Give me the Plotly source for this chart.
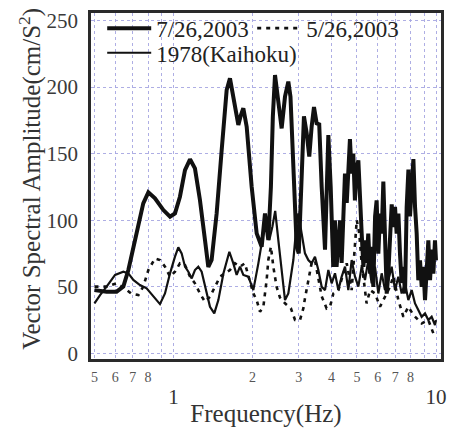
import plotly.graph_objects as go

# ---- data ----
f_jul = [0.50, 0.556, 0.607, 0.644, 0.673, 0.703, 0.735, 0.767, 0.802, 0.850, 0.915, 0.970, 1.013,
         1.058, 1.106, 1.156, 1.207, 1.261, 1.318, 1.357, 1.397, 1.460, 1.526, 1.594, 1.641, 1.690,
         1.740, 1.766, 1.800, 1.845, 1.900, 1.985, 2.074, 2.167, 2.231, 2.297, 2.35, 2.39, 2.436,
         2.508, 2.582, 2.659, 2.738, 2.79, 2.861, 2.946, 3.0, 3.077, 3.14, 3.216, 3.29, 3.359, 3.429,
         3.51, 3.59, 3.668, 3.777, 3.889, 3.97,
         4.06, 4.12, 4.18, 4.25, 4.31, 4.37, 4.44, 4.50, 4.57, 4.63, 4.70, 4.77, 4.84, 4.91, 4.99,
         5.06, 5.13, 5.21, 5.29, 5.36, 5.44, 5.52, 5.61, 5.69, 5.77, 5.86, 5.94, 6.03, 6.12, 6.21,
         6.30, 6.39, 6.49, 6.58, 6.68, 6.78, 6.88, 6.98, 7.08, 7.19, 7.29, 7.40, 7.51, 7.62, 7.73,
         7.85, 7.96, 8.08, 8.20, 8.32, 8.44, 8.56, 8.69, 8.82, 8.95, 9.08, 9.21, 9.35, 9.49, 9.63,
         9.77, 9.91, 10.0]
v_jul = [47.6, 46.4, 46.4, 50.2, 62.7, 79, 99, 112.7, 121, 116.5, 107.7, 102.7, 105.2,
         117.7, 137.7, 145.8, 139, 115.2, 85.2, 65, 70.2, 105.2, 152.8, 197.8, 206.6, 192.8,
         178, 171.6, 178, 184.1, 170.3, 125.2, 90.2, 80.2, 105.2, 85.2, 125.2, 177.8, 209,
         187.8, 169, 192.8, 204.1, 192.8, 140.3, 80.2, 75.2, 125.2, 178, 165.3, 147.8, 170.3, 185,
         172.8, 172, 125.2, 78, 164, 125.2,
         65, 100, 65, 90, 100, 68, 110, 135, 113, 145, 161, 135, 150, 115, 140,
         145, 110, 90, 65, 85, 68, 90, 60, 80, 50, 103, 115, 75, 105, 90,
         129, 85, 45, 60, 85, 112, 95, 110, 90, 105, 75, 53, 65, 45, 110,
         138, 103, 125, 146, 110, 90, 55, 70, 50, 65, 40, 70, 85, 55, 78,
         60, 85, 70]

f_may = [0.50, 0.556, 0.607, 0.652, 0.69, 0.735, 0.767, 0.802, 0.850, 0.888, 0.928, 0.970, 1.013,
         1.058, 1.106, 1.156, 1.207, 1.261, 1.318, 1.377, 1.439, 1.504, 1.571, 1.641, 1.715, 1.792,
         1.87, 1.928, 2.014, 2.074, 2.135, 2.199, 2.264, 2.297, 2.35, 2.401, 2.47, 2.545, 2.659,
         2.80, 2.903, 3.033, 3.123, 3.168, 3.262, 3.359, 3.459, 3.562, 3.668, 3.83, 3.946, 4.064,
         4.246, 4.44, 4.57, 4.772, 4.914, 4.99, 5.10, 5.21, 5.44, 5.61, 5.855, 6.12, 6.393, 6.68,
         6.88, 7.186, 7.51, 7.845, 8.20, 8.818, 9.35, 9.77, 10.0]
v_may = [50.2, 50.2, 52.7, 48.9, 45.1, 43.9, 50.2, 62.7, 71.4, 70.2, 65.2, 57.7, 61.4,
         67.7, 66.4, 57.7, 52.7, 45.1, 38.9, 42.6, 50.2, 57.7, 60.2, 62.7, 67.7, 65.2,
         67.7, 57.7, 45.1, 40.1, 31.4, 35.1, 55.2, 70.2, 80.2, 65, 50.2, 42, 37.7,
         33.9, 25.2, 25.2, 33.9, 41.4, 55, 68, 70, 55, 43, 33.9, 35.1, 45.1,
         47.6, 60.2, 67.7, 47.6, 85.2, 100.2, 90.2, 67.7, 37.6, 47.6, 45.1, 35.1, 42.6, 50.2,
         58, 40.1, 27.6, 35.1, 28.9, 22.6, 25.1, 15.1, 17.6]

f_1978 = [0.50, 0.525, 0.556, 0.599, 0.644, 0.673, 0.703, 0.745, 0.790, 0.838, 0.888, 0.928, 0.970,
          1.013, 1.043, 1.074, 1.106, 1.139, 1.173, 1.207, 1.243, 1.280, 1.318, 1.377, 1.43, 1.482,
          1.55, 1.632, 1.690, 1.740, 1.792, 1.845, 1.928, 2.014, 2.105, 2.199, 2.24, 2.317, 2.38,
          2.44, 2.508, 2.582, 2.659, 2.738, 2.861, 2.946, 2.989, 3.077, 3.168, 3.262, 3.359, 3.459,
          3.562, 3.668, 3.777, 3.889, 4.004, 4.123, 4.246, 4.372, 4.502, 4.634, 4.772, 4.914, 5.06,
          5.21, 5.364, 5.523, 5.687, 5.855, 6.029, 6.209, 6.393, 6.582, 6.778, 6.979, 7.186, 7.399,
          7.619, 7.845, 8.078, 8.318, 8.564, 8.818, 9.08, 9.35, 9.625, 9.911, 10.0]
v_1978 = [37.6, 43.9, 50.2, 59, 61.4, 60.2, 55.2, 51.4, 48.9, 42.6, 37.1, 45.1, 60.2,
          72.7, 79.7, 75.2, 65.2, 61.4, 56.4, 62.7, 65.2, 61.4, 50.2, 35.1, 30.1, 40.1,
          60.2, 76.4, 67.7, 59, 65.2, 59, 57.7, 47.6, 67.7, 90.2, 104, 85.2, 95.2,
          107, 85.2, 60.2, 40.1, 45.1, 70.2, 97.7, 105.2, 90.2, 75.2, 70.2, 67.7, 72.7,
          62.7, 50.2, 47.6, 62.7, 52.7, 60.2, 47.6, 57.7, 65.2, 47.6, 70.2, 57.7, 50.2,
          65.2, 55.2, 70.2, 52.7, 65.2, 45.1, 60.2, 47.6, 55.2, 65.2, 47.6, 57.7, 45.1,
          52.7, 40.1, 47.6, 37.6, 32.6, 27.6, 30.1, 25.1, 27.6, 21.4, 25.1]

names = ["7/26,2003", "5/26,2003", "1978(Kaihoku)"]

x_tickvals = [0.5, 0.6, 0.7, 0.8, 0.9, 1, 2, 3, 4, 5, 6, 7, 8, 9, 10]
x_minor_labels = ["5", "6", "7", "8", "", None, "2", "3", "4", "5", "6", "7", "8", "", None]
x_major_labels = {1: "1", 10: "10"}
y_tickvals = [0, 50, 100, 150, 200, 250]
x_title = "Frequency(Hz)"
y_title = "Vector Spectral Amplitude(cm/S<sup>2</sup>)"

SERIF = "Liberation Serif"
INK = "#111111"

ticktext = []
for v, m in zip(x_tickvals, x_minor_labels):
    if m is None:
        ticktext.append('<br><span style="font-size:21px;fill:#333">%s</span>' % x_major_labels[v])
    else:
        ticktext.append('<span style="font-size:14px">%s</span>' % m)

fig = go.Figure()
fig.add_trace(go.Scatter(x=f_jul, y=v_jul, mode="lines", name=names[0],
                         line=dict(color=INK, width=4), legend="legend"))
fig.add_trace(go.Scatter(x=f_may, y=v_may, mode="lines", name=names[1],
                         line=dict(color=INK, width=2.6, dash="4px,5px"), legend="legend"))
fig.add_trace(go.Scatter(x=f_1978, y=v_1978, mode="lines", name=names[2],
                         line=dict(color=INK, width=2.2), legend="legend2"))

legend_common = dict(orientation="h", xanchor="left", yanchor="middle", itemwidth=44,
                     font=dict(family=SERIF, size=23, color="#222"),
                     bgcolor="rgba(0,0,0,0)", borderwidth=0, traceorder="normal")

fig.update_layout(
    width=455, height=428,
    margin=dict(l=91, r=14, t=13, b=69, autoexpand=False),
    paper_bgcolor="white", plot_bgcolor="white",
    font=dict(family=SERIF),
    showlegend=True,
    legend=dict(x=0.032, y=0.956, entrywidth=91, **legend_common),
    legend2=dict(x=0.032, y=0.885, **legend_common),
    xaxis=dict(
        type="log", range=[-0.3143, 1.019], automargin=False,
        tickmode="array", tickvals=x_tickvals, ticktext=ticktext, tickangle=0,
        tickfont=dict(family=SERIF, size=17, color="#555"),
        ticks="", showgrid=True, gridcolor="rgba(165,165,225,0.9)", griddash="dot", gridwidth=1,
        showline=True, mirror=True, linecolor="#2a2a2a", linewidth=2.5, zeroline=False,
        title=dict(text=x_title, font=dict(family=SERIF, size=25, color="#333"), standoff=2),
    ),
    yaxis=dict(
        range=[-4.1, 255.6], tickmode="array", tickvals=y_tickvals, automargin=False,
        tickfont=dict(family=SERIF, size=21, color="#3a3a3a"),
        ticks="", ticklabelstandoff=6,
        showgrid=True, gridcolor="rgba(165,165,225,0.9)", griddash="dot", gridwidth=1,
        showline=True, mirror=True, linecolor="#2a2a2a", linewidth=2.5, zeroline=False,
    ),
    annotations=[dict(text=y_title, xref="paper", yref="paper", x=-0.175, y=0.52,
                      xanchor="center", yanchor="middle", textangle=-90, showarrow=False,
                      font=dict(family=SERIF, size=25, color="#333"))],
)

fig.write_html("out.html")
